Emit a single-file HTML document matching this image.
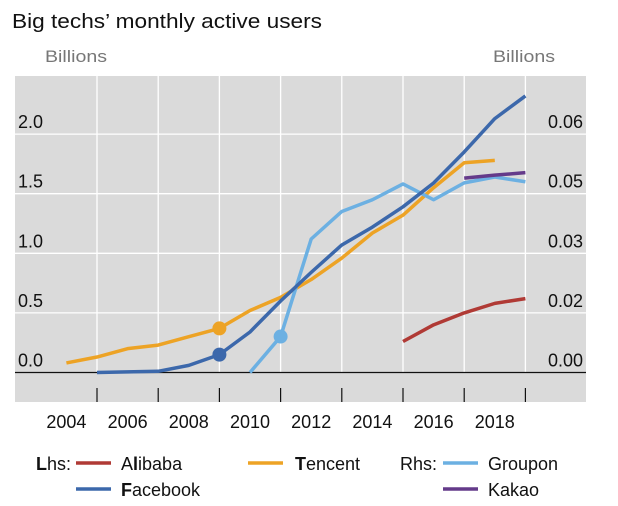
<!DOCTYPE html>
<html><head><meta charset="utf-8"><style>
body{margin:0;background:#fff;}
svg{display:block;font-family:"Liberation Sans",sans-serif;}
</style></head><body>
<svg width="618" height="506" viewBox="0 0 618 506">
<text x="12" y="28" font-size="20" fill="#111" textLength="310" lengthAdjust="spacingAndGlyphs">Big techs’ monthly active users</text>
<text x="45" y="62" font-size="17" fill="#777" textLength="62" lengthAdjust="spacingAndGlyphs">Billions</text>
<text x="493" y="62" font-size="17" fill="#777" textLength="62" lengthAdjust="spacingAndGlyphs">Billions</text>
<rect x="15" y="76" width="571" height="326" fill="#dadada"/>
<g id="grid"></g>
<g id="series"></g>
<g id="legend" font-size="18" fill="#111">
  <text x="36" y="470"><tspan font-weight="bold">L</tspan>hs:</text>
  <line x1="76" y1="463" x2="111" y2="463" stroke="#b03a35" stroke-width="3.5"/>
  <text x="121" y="470">A<tspan font-weight="bold">l</tspan>ibaba</text>
  <line x1="76" y1="489" x2="111" y2="489" stroke="#3c68ab" stroke-width="3.5"/>
  <text x="121" y="496"><tspan font-weight="bold">F</tspan>acebook</text>
  <line x1="248" y1="463" x2="283" y2="463" stroke="#eda325" stroke-width="3.5"/>
  <text x="295" y="470"><tspan font-weight="bold">T</tspan>encent</text>
  <text x="400" y="470">Rhs:</text>
  <line x1="443" y1="463" x2="478" y2="463" stroke="#6cb0e2" stroke-width="3.5"/>
  <text x="488" y="470">Groupon</text>
  <line x1="443" y1="489" x2="478" y2="489" stroke="#643a8a" stroke-width="3.5"/>
  <text x="488" y="496">Kakao</text>
</g>
</svg>
<script>
const leftTicks=[0,0.5,1.0,1.5,2.0];
const leftTickLabels=["0.0","0.5","1.0","1.5","2.0"];
const rightTickLabels=["0.00","0.02","0.03","0.05","0.06"];
const xTickYears=[2005,2007,2009,2011,2013,2015,2017,2019];
const xLabelYears=[2004,2006,2008,2010,2012,2014,2016,2018];
const tencentYears=[2004,2005,2006,2007,2008,2009,2010,2011,2012,2013,2014,2015,2016,2017,2018];
const tencentValues=[0.08,0.13,0.2,0.23,0.3,0.37,0.52,0.63,0.78,0.96,1.17,1.32,1.55,1.76,1.78];
const facebookYears=[2005,2006,2007,2008,2009,2010,2011,2012,2013,2014,2015,2016,2017,2018,2019];
const facebookValues=[0,0.005,0.01,0.06,0.15,0.34,0.6,0.84,1.07,1.22,1.39,1.59,1.85,2.13,2.32];
const alibabaYears=[2015,2016,2017,2018,2019];
const alibabaValues=[0.26,0.4,0.5,0.58,0.62];
const grouponYears=[2010,2011,2012,2013,2014,2015,2016,2017,2018,2019];
const grouponValues=[0,0.0098,0.0364,0.0439,0.0471,0.0514,0.0471,0.0517,0.0533,0.052];
const kakaoYears=[2017,2018,2019];
const kakaoValues=[0.053,0.0538,0.0545];

const NS="http://www.w3.org/2000/svg";
const xS=y=>97+(y-2005)*30.6;
const yL=v=>372.5-v*119.2;
const yR=r=>yL(r/0.0325);
const grid=document.getElementById('grid');
const ser=document.getElementById('series');
function mk(tag,attrs,parent){const e=document.createElementNS(NS,tag);for(const k in attrs)e.setAttribute(k,attrs[k]);parent.appendChild(e);return e;}

leftTicks.forEach((v,i)=>{
  if(v>0){const g=mk('line',{x1:15,x2:586,y1:yL(v),y2:yL(v),stroke:'#fff','stroke-width':1.3},grid);
  
  }
  const t=mk('text',{x:18,y:yL(v)-6,'font-size':18,fill:'#111'},grid);t.textContent=leftTickLabels[i];
  
  
  const r=mk('text',{x:583,y:yL(v)-6,'font-size':18,fill:'#111','text-anchor':'end'},grid);r.textContent=rightTickLabels[i];
  
  
});
xTickYears.forEach(y=>{
  const g=mk('line',{x1:xS(y),x2:xS(y),y1:76,y2:372,stroke:'#fff','stroke-width':1.3},grid);
  
  
  const t=mk('line',{x1:xS(y),x2:xS(y),y1:388,y2:402,stroke:'#111','stroke-width':1.2},grid);
  
  
});
xLabelYears.forEach(y=>{
  const t=mk('text',{x:xS(y),y:428,'font-size':18,fill:'#111','text-anchor':'middle'},grid);t.textContent=y;
  
  
});
const z=mk('line',{x1:15,x2:586,y1:372.5,y2:372.5,stroke:'#111','stroke-width':1.2},grid);



function line(years,vals,ys,color,name){
  const p=mk('polyline',{points:years.map((y,i)=>xS(y)+','+ys(vals[i])).join(' '),fill:'none',stroke:color,'stroke-width':3.5,'stroke-linejoin':'round'},ser);
  
  
}
function dot(year,years,vals,ys,color,name){
  const i=years.indexOf(year);
  const c=mk('circle',{cx:xS(year),cy:ys(vals[i]),r:7,fill:color},ser);
  
  
}
line(alibabaYears,alibabaValues,yL,'#b03a35','alibaba-line');
line(tencentYears,tencentValues,yL,'#eda325','tencent-line');
line(grouponYears,grouponValues,yR,'#6cb0e2','groupon-line');
line(facebookYears,facebookValues,yL,'#3c68ab','facebook-line');
line(kakaoYears,kakaoValues,yR,'#643a8a','kakao-line');
dot(2009,tencentYears,tencentValues,yL,'#eda325','tencent-marker');
dot(2009,facebookYears,facebookValues,yL,'#3c68ab','facebook-marker');
dot(2011,grouponYears,grouponValues,yR,'#6cb0e2','groupon-marker');
</script>
</body></html>
